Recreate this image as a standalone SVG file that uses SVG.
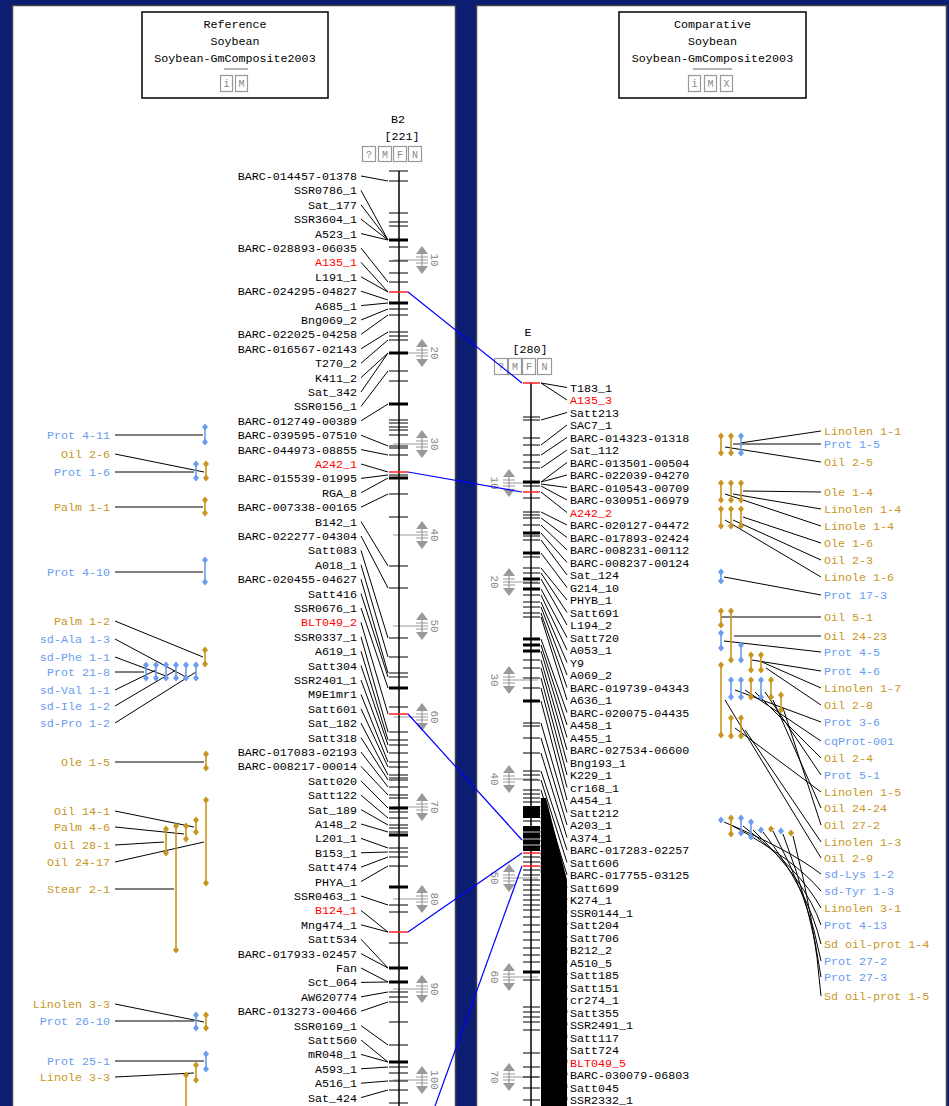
<svg xmlns="http://www.w3.org/2000/svg" xmlns:xlink="http://www.w3.org/1999/xlink" width="949" height="1106" viewBox="0 0 949 1106">
<defs>
<style>
.t{font-family:"Liberation Mono","DejaVu Sans Mono",monospace;font-size:11.7px;fill:#000}
.e{text-anchor:end}
.m{text-anchor:middle}
.red{fill:#ff0000}
.gold{fill:#c8961e}
.blue{fill:#6a9cf0}
.bb{stroke:#000;stroke-width:1.5;fill:none}
.tk{stroke:#000;stroke-width:1.2;fill:none}
.tk3{stroke:#000;stroke-width:3;fill:none}
.tkr{stroke:#ff2020;stroke-width:1.6;fill:none}
.ld{stroke:#000;stroke-width:1;fill:none}
.cn{stroke:#0000ff;stroke-width:1.2;fill:none}
.qg{stroke:#c8961e;stroke-width:1.6;marker-start:url(#dg);marker-end:url(#dg)}
.qb{stroke:#6a9cf0;stroke-width:1.6;marker-start:url(#db);marker-end:url(#db)}
.sc{stroke:#999;stroke-width:1.2;fill:none}
.scf{fill:#999;stroke:none}
.sn{font-family:"Liberation Mono","DejaVu Sans Mono",monospace;font-size:11px;fill:#8a8a8a;text-anchor:middle}
.btn{fill:#fff;stroke:#999;stroke-width:1.2}
.bt{font-family:"Liberation Mono","DejaVu Sans Mono",monospace;font-size:10px;fill:#888;text-anchor:middle}
.box{fill:#fff;stroke:#000;stroke-width:1.5}
.pnl{fill:#fff;stroke:#444;stroke-width:1.5}
</style>
<marker id="dg" viewBox="0 0 8 8" refX="4" refY="4" markerWidth="8" markerHeight="8" markerUnits="userSpaceOnUse"><path d="M4,0.5L7,4L4,7.5L1,4Z" fill="#c8961e"/></marker>
<marker id="db" viewBox="0 0 8 8" refX="4" refY="4" markerWidth="8" markerHeight="8" markerUnits="userSpaceOnUse"><path d="M4,0.5L7,4L4,7.5L1,4Z" fill="#6a9cf0"/></marker>
<path id="dmd" d="M0,-3.5L3,0L0,3.5L-3,0Z"/>
<g id="scm"><path class="scf" d="M0,-14L6,-6L-6,-6ZM0,14L6,6L-6,6Z"/><path class="sc" d="M0,-6V6M-6,-3H6M-6,3H6"/></g>
</defs>
<rect x="0" y="0" width="949" height="1106" fill="#0b1e72"/>

<g id="panel-reference">
<rect class="pnl" x="12.5" y="5.5" width="443" height="1110"/>
<rect class="box" x="142" y="12" width="186" height="86"/>
<text class="t m" x="235" y="28">Reference</text>
<text class="t m" x="235" y="45">Soybean</text>
<text class="t m" x="235" y="62">Soybean-GmComposite2003</text>
<path d="M224,69H248" stroke="#666" stroke-width="1"/>
<rect class="btn" x="220.5" y="75.5" width="12" height="16"/><text class="bt" x="226.5" y="87">i</text>
<rect class="btn" x="235.5" y="75.5" width="12" height="16"/><text class="bt" x="241.5" y="87">M</text>
</g>

<g id="panel-comparative">
<rect class="pnl" x="476.5" y="5.5" width="470" height="1110"/>
<rect class="box" x="619" y="12" width="187" height="86"/>
<text class="t m" x="712.5" y="28">Comparative</text>
<text class="t m" x="712.5" y="45">Soybean</text>
<text class="t m" x="712.5" y="62">Soybean-GmComposite2003</text>
<path d="M693,69H732" stroke="#666" stroke-width="1"/>
<rect class="btn" x="688.5" y="75.5" width="12" height="16"/><text class="bt" x="694.5" y="87">i</text>
<rect class="btn" x="704.5" y="75.5" width="12" height="16"/><text class="bt" x="710.5" y="87">M</text>
<rect class="btn" x="720.5" y="75.5" width="12" height="16"/><text class="bt" x="726.5" y="87">X</text>
</g>

<g id="chrom-B2">
<text class="t m" x="398" y="123">B2</text>
<text class="t m" x="402" y="140">[221]</text>
<rect class="btn" x="362.5" y="146.5" width="13" height="15"/><text class="bt" x="369" y="158">?</text>
<rect class="btn" x="378.5" y="146.5" width="13" height="15"/><text class="bt" x="385" y="158">M</text>
<rect class="btn" x="393.5" y="146.5" width="13" height="15"/><text class="bt" x="400" y="158">F</text>
<rect class="btn" x="408.5" y="146.5" width="13" height="15"/><text class="bt" x="415" y="158">N</text>
<g id="b2-scale">
<path class="sc" d="M393,260H428M393,353H428M393,444H428M393,535H428M393,626H428M393,717H428M393,807H428M393,899H428M393,989H428M393,1080H428"/>
<use xlink:href="#scm" x="422" y="260"/><use xlink:href="#scm" x="422" y="353"/><use xlink:href="#scm" x="422" y="444"/><use xlink:href="#scm" x="422" y="535"/><use xlink:href="#scm" x="422" y="626"/><use xlink:href="#scm" x="422" y="717"/><use xlink:href="#scm" x="422" y="807"/><use xlink:href="#scm" x="422" y="899"/><use xlink:href="#scm" x="422" y="989"/><use xlink:href="#scm" x="422" y="1080"/>
<text class="sn" transform="translate(431,260) rotate(90)">10</text>
<text class="sn" transform="translate(431,353) rotate(90)">20</text>
<text class="sn" transform="translate(431,444) rotate(90)">30</text>
<text class="sn" transform="translate(431,535) rotate(90)">40</text>
<text class="sn" transform="translate(431,626) rotate(90)">50</text>
<text class="sn" transform="translate(431,717) rotate(90)">60</text>
<text class="sn" transform="translate(431,807) rotate(90)">70</text>
<text class="sn" transform="translate(431,899) rotate(90)">80</text>
<text class="sn" transform="translate(431,989) rotate(90)">90</text>
<text class="sn" transform="translate(431,1080) rotate(90)">100</text>
</g>
<path class="bb" d="M399,171V1106"/>
<path class="tk" d="M389,171H408M389,181H408M389,213H408M389,222H408M389,226H408M389,247H408M389,261H408M389,273H408M389,282H408M389,309H408M389,315H408M389,332H408M389,336H408M389,340H408M389,371H408M389,381H408M389,420H408M389,423H408M389,427H408M389,430H408M389,435H408M389,446H408M389,448H408M389,455H408M389,475H408M389,494H408M389,517H408M389,566H408M389,588H408M389,638H408M389,657H408M389,673H408M389,677H408M389,707H408M389,732H408M389,740H408M389,745H408M389,753H408M389,762H408M389,767H408M389,775H408M389,778H408M389,780H408M389,787H408M389,795H408M389,798H408M389,812H408M389,818H408M389,825H408M389,828H408M389,832H408M389,848H408M389,852H408M389,857H408M389,866H408M389,905H408M389,912H408M389,943H408M389,992H408M389,997H408M389,1002H408M389,1022H408M389,1045H408M389,1067H408M389,1073H408M389,1081H408M389,1090H408M389,1103H408"/>
<path class="tk3" d="M389,240H408M389,303H408M389,353H408M389,404H408M389,478H408M389,688H408M389,808H408M389,835H408M389,887H408M389,968H408M389,982H408M389,1062H408"/>
<path class="tkr" d="M389,292H408M389,472H408M389,714H408M389,932H408"/>
<path class="ld" d="M361,176L388,181M361,190.4L388,240M361,204.8L388,240M361,219.2L388,240M361,233.6L388,240M361,248L388,282M361,262.4L388,292M361,276.8L388,292M361,291.2L388,300M361,305.6L388,303M361,320L388,309M361,334.4L388,315M361,348.8L388,332M361,363.2L388,340M361,377.6L388,353M361,392L388,353M361,406.4L388,371M361,420.8L388,404M361,435.2L388,446M361,449.6L388,455M361,464L388,472M361,478.4L388,475M361,492.8L388,478M361,507.2L388,494M361,521.6L388,566M361,536L388,588M361,550.4L388,638M361,564.8L388,657M361,579.2L388,673M361,593.6L388,677M361,608L388,688M361,622.4L388,714M361,636.8L388,732M361,651.2L388,740M361,665.6L388,745M361,680L388,753M361,694.4L388,762M361,708.8L388,767M361,723.2L388,775M361,737.6L388,780M361,752L388,787M361,766.4L388,795M361,780.8L388,808M361,795.2L388,818M361,809.6L388,825M361,824L388,832M361,838.4L388,848M361,852.8L388,852M361,867.2L388,857M361,881.6L388,866M361,896L388,905M361,910.4L388,932M361,924.8L388,932M361,939.2L388,968M361,953.6L388,968M361,968L388,982M361,982.4L388,982M361,996.8L388,992M361,1011.2L388,1002M361,1025.6L388,1045M361,1040L388,1062M361,1054.4L388,1062M361,1068.8L388,1067M361,1083.2L388,1081M361,1097.6L388,1090"/>
<g class="t e">
<text x="357" y="180">BARC-014457-01378</text>
<text x="357" y="194.4">SSR0786_1</text>
<text x="357" y="208.8">Sat_177</text>
<text x="357" y="223.2">SSR3604_1</text>
<text x="357" y="237.6">A523_1</text>
<text x="357" y="252">BARC-028893-06035</text>
<text x="357" y="266.4" class="red">A135_1</text>
<text x="357" y="280.8">L191_1</text>
<text x="357" y="295.2">BARC-024295-04827</text>
<text x="357" y="309.6">A685_1</text>
<text x="357" y="324">Bng069_2</text>
<text x="357" y="338.4">BARC-022025-04258</text>
<text x="357" y="352.8">BARC-016567-02143</text>
<text x="357" y="367.2">T270_2</text>
<text x="357" y="381.6">K411_2</text>
<text x="357" y="396">Sat_342</text>
<text x="357" y="410.4">SSR0156_1</text>
<text x="357" y="424.8">BARC-012749-00389</text>
<text x="357" y="439.2">BARC-039595-07510</text>
<text x="357" y="453.6">BARC-044973-08855</text>
<text x="357" y="468" class="red">A242_1</text>
<text x="357" y="482.4">BARC-015539-01995</text>
<text x="357" y="496.8">RGA_8</text>
<text x="357" y="511.2">BARC-007338-00165</text>
<text x="357" y="525.6">B142_1</text>
<text x="357" y="540">BARC-022277-04304</text>
<text x="357" y="554.4">Satt083</text>
<text x="357" y="568.8">A018_1</text>
<text x="357" y="583.2">BARC-020455-04627</text>
<text x="357" y="597.6">Satt416</text>
<text x="357" y="612">SSR0676_1</text>
<text x="357" y="626.4" class="red">BLT049_2</text>
<text x="357" y="640.8">SSR0337_1</text>
<text x="357" y="655.2">A619_1</text>
<text x="357" y="669.6">Satt304</text>
<text x="357" y="684">SSR2401_1</text>
<text x="357" y="698.4">M9E1mr1</text>
<text x="357" y="712.8">Satt601</text>
<text x="357" y="727.2">Sat_182</text>
<text x="357" y="741.6">Satt318</text>
<text x="357" y="756">BARC-017083-02193</text>
<text x="357" y="770.4">BARC-008217-00014</text>
<text x="357" y="784.8">Satt020</text>
<text x="357" y="799.2">Satt122</text>
<text x="357" y="813.6">Sat_189</text>
<text x="357" y="828">A148_2</text>
<text x="357" y="842.4">L201_1</text>
<text x="357" y="856.8">B153_1</text>
<text x="357" y="871.2">Satt474</text>
<text x="357" y="885.6">PHYA_1</text>
<text x="357" y="900">SSR0463_1</text>
<text x="357" y="914.4" class="red">B124_1</text>
<text x="357" y="928.8">Mng474_1</text>
<text x="357" y="943.2">Satt534</text>
<text x="357" y="957.6">BARC-017933-02457</text>
<text x="357" y="972">Fan</text>
<text x="357" y="986.4">Sct_064</text>
<text x="357" y="1000.8">AW620774</text>
<text x="357" y="1015.2">BARC-013273-00466</text>
<text x="357" y="1029.6">SSR0169_1</text>
<text x="357" y="1044">Satt560</text>
<text x="357" y="1058.4">mR048_1</text>
<text x="357" y="1072.8">A593_1</text>
<text x="357" y="1087.2">A516_1</text>
<text x="357" y="1101.6">Sat_424</text>
</g>
</g>

<g id="chrom-E">
<text class="t m" x="528" y="336">E</text>
<text class="t m" x="530" y="353">[280]</text>
<rect class="btn" x="494.5" y="358.5" width="13" height="16"/><text class="bt" x="501" y="370">?</text>
<rect class="btn" x="508.5" y="358.5" width="13" height="16"/><text class="bt" x="515" y="370">M</text>
<rect class="btn" x="522.5" y="358.5" width="13" height="16"/><text class="bt" x="529" y="370">F</text>
<rect class="btn" x="537.5" y="358.5" width="14" height="16"/><text class="bt" x="544.5" y="370">N</text>
<g id="e-scale">
<path class="sc" d="M503,483H538M503,582H538M503,680H538M503,779H538M503,878H538M503,977H538M503,1077H538"/>
<use xlink:href="#scm" x="509" y="483"/><use xlink:href="#scm" x="509" y="582"/><use xlink:href="#scm" x="509" y="680"/><use xlink:href="#scm" x="509" y="779"/><use xlink:href="#scm" x="509" y="878"/><use xlink:href="#scm" x="509" y="977"/><use xlink:href="#scm" x="509" y="1077"/>
<text class="sn" transform="translate(491,483) rotate(90)">10</text>
<text class="sn" transform="translate(491,582) rotate(90)">20</text>
<text class="sn" transform="translate(491,680) rotate(90)">30</text>
<text class="sn" transform="translate(491,779) rotate(90)">40</text>
<text class="sn" transform="translate(491,878) rotate(90)">50</text>
<text class="sn" transform="translate(491,977) rotate(90)">60</text>
<text class="sn" transform="translate(491,1077) rotate(90)">70</text>
</g>
<path class="bb" d="M531,383V1106"/>
<path class="tk" d="M523,417H540M523,420H540M523,438H540M523,445H540M523,455H540M523,462H540M523,468H540M523,486H540M523,498H540M523,512H540M523,515H540M523,518H540M523,525H540M523,536H540M523,540H540M523,557H540M523,568H540M523,573H540M523,583H540M523,595H540M523,602H540M523,607H540M523,613H540M523,617H540M523,660H540M523,668H540M523,678H540M523,688H540M523,723H540M523,726H540M523,738H540M523,753H540M523,771H540M523,775H540M523,780H540M523,790H540M523,794H540M523,798H540M523,802H540M523,821H540M523,857H540M523,862H540M523,870H540M523,875H540M523,880H540M523,885H540M523,890H540M523,895H540M523,900H540M523,905H540M523,910H540M523,917H540M523,925H540M523,932H540M523,940H540M523,948H540M523,955H540M523,962H540M523,980H540M523,1007H540M523,1012H540M523,1017H540M523,1022H540M523,1030H540M523,1053H540M523,1067H540M523,1077H540M523,1088H540M523,1100H540"/>
<path class="tk3" d="M523,482H540M523,533H540M523,553H540M523,579H540M523,589H540M523,639H540M523,645H540M523,651H540M523,701H540M523,972H540"/>
<rect x="523" y="806" width="17" height="12" fill="#000"/>
<rect x="523" y="826" width="17" height="25" fill="#000"/>
<path d="M523,832H540M523,839H540M523,845H540" stroke="#fff" stroke-width="0.8"/>
<path class="tkr" d="M523,383H540M523,492H540M523,853H540M523,866H540"/>
<polygon points="541,798 546,798 567,880 567,1106 541,1106" fill="#000"/>
<path class="ld" d="M541,383L567,387.5M541,383L567,400M541,420L567,412.5M541,445L567,425M541,455L567,437.5M541,468L567,450M541,482L567,462.5M541,482L567,475M541,484L567,487.5M541,486L567,500M541,492L567,512.5M541,512L567,525M541,518L567,537.5M541,525L567,550M541,533L567,562.5M541,540L567,575M541,553L567,587.5M541,568L567,600M541,573L567,612.5M541,579L567,625M541,589L567,637.5M541,595L567,650M541,602L567,662.5M541,607L567,675M541,613L567,687.5M541,617L567,700M541,639L567,712.5M541,645L567,725M541,651L567,737.5M541,660L567,750M541,668L567,762.5M541,678L567,775M541,688L567,787.5M541,701L567,800M541,723L567,812.5M541,738L567,825M541,753L567,837.5M541,771L567,850M541,780L567,862.5M541,790L567,875M541,798L567,887.5M541,802L567,900M541,806L567,912.5M541,810L567,925M541,813L567,937.5M541,817L567,950M541,821L567,962.5M541,827L567,975M541,831L567,987.5M541,835L567,1000M541,840L567,1012.5M541,845L567,1025M541,850L567,1037.5M541,853L567,1050M541,857L567,1062.5M541,862L567,1075M541,866L567,1087.5M541,870L567,1100"/>
<g class="t">
<text x="570" y="391.5">T183_1</text>
<text x="570" y="404" class="red">A135_3</text>
<text x="570" y="416.5">Satt213</text>
<text x="570" y="429">SAC7_1</text>
<text x="570" y="441.5">BARC-014323-01318</text>
<text x="570" y="454">Sat_112</text>
<text x="570" y="466.5">BARC-013501-00504</text>
<text x="570" y="479">BARC-022039-04270</text>
<text x="570" y="491.5">BARC-010543-00709</text>
<text x="570" y="504">BARC-030951-06979</text>
<text x="570" y="516.5" class="red">A242_2</text>
<text x="570" y="529">BARC-020127-04472</text>
<text x="570" y="541.5">BARC-017893-02424</text>
<text x="570" y="554">BARC-008231-00112</text>
<text x="570" y="566.5">BARC-008237-00124</text>
<text x="570" y="579">Sat_124</text>
<text x="570" y="591.5">G214_10</text>
<text x="570" y="604">PHYB_1</text>
<text x="570" y="616.5">Satt691</text>
<text x="570" y="629">L194_2</text>
<text x="570" y="641.5">Satt720</text>
<text x="570" y="654">A053_1</text>
<text x="570" y="666.5">Y9</text>
<text x="570" y="679">A069_2</text>
<text x="570" y="691.5">BARC-019739-04343</text>
<text x="570" y="704">A636_1</text>
<text x="570" y="716.5">BARC-020075-04435</text>
<text x="570" y="729">A458_1</text>
<text x="570" y="741.5">A455_1</text>
<text x="570" y="754">BARC-027534-06600</text>
<text x="570" y="766.5">Bng193_1</text>
<text x="570" y="779">K229_1</text>
<text x="570" y="791.5">cr168_1</text>
<text x="570" y="804">A454_1</text>
<text x="570" y="816.5">Satt212</text>
<text x="570" y="829">A203_1</text>
<text x="570" y="841.5">A374_1</text>
<text x="570" y="854">BARC-017283-02257</text>
<text x="570" y="866.5">Satt606</text>
<text x="570" y="879">BARC-017755-03125</text>
<text x="570" y="891.5">Satt699</text>
<text x="570" y="904">K274_1</text>
<text x="570" y="916.5">SSR0144_1</text>
<text x="570" y="929">Satt204</text>
<text x="570" y="941.5">Satt706</text>
<text x="570" y="954">B212_2</text>
<text x="570" y="966.5">A510_5</text>
<text x="570" y="979">Satt185</text>
<text x="570" y="991.5">Satt151</text>
<text x="570" y="1004">cr274_1</text>
<text x="570" y="1016.5">Satt355</text>
<text x="570" y="1029">SSR2491_1</text>
<text x="570" y="1041.5">Satt117</text>
<text x="570" y="1054">Satt724</text>
<text x="570" y="1066.5" class="red">BLT049_5</text>
<text x="570" y="1079">BARC-030079-06803</text>
<text x="570" y="1091.5">Satt045</text>
<text x="570" y="1104">SSR2332_1</text>
</g>
</g>

<g id="qtl-left">
<path class="ld" d="M115,435H203M115,454L204,472M115,472H194M115,507H203M115,572H203M115,621L203,657M115,639L186,677M115,657L166,676M115,672H144M115,690L156,670M115,706L176,670M115,723L196,672M115,762H204M115,811L194,827M115,827L184,834M115,845L164,842M115,862L204,842M115,889H174M115,1004L204,1022M115,1021H194M115,1061H204M115,1077L194,1073"/>
<line class="qb" x1="205" y1="427" x2="205" y2="442"/>
<line class="qb" x1="196" y1="464" x2="196" y2="478"/>
<line class="qg" x1="206" y1="464" x2="206" y2="478"/>
<line class="qg" x1="205" y1="500" x2="205" y2="513"/>
<line class="qb" x1="205" y1="560" x2="205" y2="582"/>
<line class="qg" x1="205" y1="650" x2="205" y2="664"/>
<line class="qb" x1="146" y1="665" x2="146" y2="678"/>
<line class="qb" x1="156" y1="665" x2="156" y2="678"/>
<line class="qb" x1="166" y1="665" x2="166" y2="678"/>
<line class="qb" x1="176" y1="665" x2="176" y2="678"/>
<line class="qb" x1="186" y1="665" x2="186" y2="678"/>
<line class="qb" x1="196" y1="665" x2="196" y2="678"/>
<line class="qg" x1="206" y1="754" x2="206" y2="768"/>
<line class="qg" x1="206" y1="800" x2="206" y2="883"/>
<line class="qg" x1="196" y1="820" x2="196" y2="832"/>
<line class="qg" x1="186" y1="826" x2="186" y2="839"/>
<line class="qg" x1="176" y1="826" x2="176" y2="950"/>
<line class="qg" x1="166" y1="829" x2="166" y2="853"/>
<line class="qb" x1="196" y1="1015" x2="196" y2="1028"/>
<line class="qg" x1="206" y1="1015" x2="206" y2="1028"/>
<line class="qb" x1="206" y1="1054" x2="206" y2="1069"/>
<line class="qg" x1="196" y1="1065" x2="196" y2="1080"/>
<line x1="186" y1="1075" x2="186" y2="1106" stroke="#c8961e" stroke-width="1.6" marker-start="url(#dg)"/>
<g class="t e">
<text x="110" y="439" class="blue">Prot 4-11</text>
<text x="110" y="458" class="gold">Oil 2-6</text>
<text x="110" y="476" class="blue">Prot 1-6</text>
<text x="110" y="511" class="gold">Palm 1-1</text>
<text x="110" y="576" class="blue">Prot 4-10</text>
<text x="110" y="625" class="gold">Palm 1-2</text>
<text x="110" y="643" class="blue">sd-Ala 1-3</text>
<text x="110" y="661" class="blue">sd-Phe 1-1</text>
<text x="110" y="676" class="blue">Prot 21-8</text>
<text x="110" y="694" class="blue">sd-Val 1-1</text>
<text x="110" y="710" class="blue">sd-Ile 1-2</text>
<text x="110" y="727" class="blue">sd-Pro 1-2</text>
<text x="110" y="766" class="gold">Ole 1-5</text>
<text x="110" y="815" class="gold">Oil 14-1</text>
<text x="110" y="831" class="gold">Palm 4-6</text>
<text x="110" y="849" class="gold">Oil 28-1</text>
<text x="110" y="866" class="gold">Oil 24-17</text>
<text x="110" y="893" class="gold">Stear 2-1</text>
<text x="110" y="1008" class="gold">Linolen 3-3</text>
<text x="110" y="1025" class="blue">Prot 26-10</text>
<text x="110" y="1065" class="blue">Prot 25-1</text>
<text x="110" y="1081" class="gold">Linole 3-3</text>
</g>
</g>

<g id="qtl-right">
<path class="ld" d="M740,443L821,431M733,444H821M725,447L821,462M743,491L821,492M733,494L821,509M725,494L821,526M743,517L821,543M733,520L821,560M725,520L821,577M724,577L821,595M721,617H821M734,636H821M724,641L821,652M752,660L821,671M762,662L821,688M766,668L821,705M735,690L821,722M745,690L821,741M755,692L821,758M765,692L821,775M735,728L821,792M773,700L821,808M783,708L821,825M745,730L821,842M725,700L821,858M724,822Q790,850 821,874M733,826Q795,860 821,891M743,826Q800,870 821,908M753,830Q805,880 821,925M763,832Q808,890 821,944M773,831Q810,900 821,961M783,834Q812,910 821,977M793,836Q815,920 821,996"/>
<line class="qg" x1="721" y1="436" x2="721" y2="453"/>
<line class="qg" x1="731" y1="436" x2="731" y2="453"/>
<line class="qb" x1="741" y1="436" x2="741" y2="453"/>
<line class="qg" x1="721" y1="483" x2="721" y2="500"/>
<line class="qg" x1="731" y1="483" x2="731" y2="500"/>
<line class="qg" x1="741" y1="483" x2="741" y2="500"/>
<line class="qg" x1="721" y1="509" x2="721" y2="526"/>
<line class="qg" x1="731" y1="509" x2="731" y2="526"/>
<line class="qg" x1="741" y1="509" x2="741" y2="526"/>
<line class="qb" x1="721" y1="572" x2="721" y2="581"/>
<line class="qg" x1="721" y1="611" x2="721" y2="625"/>
<line class="qg" x1="731" y1="611" x2="731" y2="660"/>
<line class="qb" x1="721" y1="633" x2="721" y2="648"/>
<line class="qb" x1="741" y1="645" x2="741" y2="660"/>
<line class="qg" x1="751" y1="655" x2="751" y2="670"/>
<line class="qg" x1="761" y1="655" x2="761" y2="670"/>
<line class="qg" x1="721" y1="665" x2="721" y2="735"/>
<line class="qb" x1="731" y1="680" x2="731" y2="697"/>
<line class="qb" x1="741" y1="680" x2="741" y2="697"/>
<line class="qg" x1="751" y1="680" x2="751" y2="697"/>
<line class="qb" x1="761" y1="680" x2="761" y2="697"/>
<line class="qg" x1="771" y1="680" x2="771" y2="697"/>
<line class="qg" x1="781" y1="695" x2="781" y2="710"/>
<line class="qg" x1="731" y1="718" x2="731" y2="736"/>
<line class="qg" x1="741" y1="718" x2="741" y2="736"/>
<use xlink:href="#dmd" x="721" y="820" fill="#6a9cf0"/>
<line class="qg" x1="731" y1="818" x2="731" y2="834"/>
<line class="qb" x1="741" y1="818" x2="741" y2="833"/>
<line class="qb" x1="751" y1="822" x2="751" y2="837"/>
<use xlink:href="#dmd" x="761" y="830" fill="#6a9cf0"/>
<use xlink:href="#dmd" x="771" y="829" fill="#c8961e"/>
<use xlink:href="#dmd" x="781" y="831" fill="#6a9cf0"/>
<use xlink:href="#dmd" x="791" y="833" fill="#c8961e"/>
<g class="t">
<text x="824" y="435" class="gold">Linolen 1-1</text>
<text x="824" y="448" class="blue">Prot 1-5</text>
<text x="824" y="466" class="gold">Oil 2-5</text>
<text x="824" y="496" class="gold">Ole 1-4</text>
<text x="824" y="513" class="gold">Linolen 1-4</text>
<text x="824" y="530" class="gold">Linole 1-4</text>
<text x="824" y="547" class="gold">Ole 1-6</text>
<text x="824" y="564" class="gold">Oil 2-3</text>
<text x="824" y="581" class="gold">Linole 1-6</text>
<text x="824" y="599" class="blue">Prot 17-3</text>
<text x="824" y="621" class="gold">Oil 5-1</text>
<text x="824" y="640" class="gold">Oil 24-23</text>
<text x="824" y="656" class="blue">Prot 4-5</text>
<text x="824" y="675" class="blue">Prot 4-6</text>
<text x="824" y="692" class="gold">Linolen 1-7</text>
<text x="824" y="709" class="gold">Oil 2-8</text>
<text x="824" y="726" class="blue">Prot 3-6</text>
<text x="824" y="745" class="blue">cqProt-001</text>
<text x="824" y="762" class="gold">Oil 2-4</text>
<text x="824" y="779" class="blue">Prot 5-1</text>
<text x="824" y="796" class="gold">Linolen 1-5</text>
<text x="824" y="812" class="gold">Oil 24-24</text>
<text x="824" y="829" class="gold">Oil 27-2</text>
<text x="824" y="846" class="gold">Linolen 1-3</text>
<text x="824" y="862" class="gold">Oil 2-9</text>
<text x="824" y="878" class="blue">sd-Lys 1-2</text>
<text x="824" y="895" class="blue">sd-Tyr 1-3</text>
<text x="824" y="912" class="gold">Linolen 3-1</text>
<text x="824" y="929" class="blue">Prot 4-13</text>
<text x="824" y="948" class="gold">Sd oil-prot 1-4</text>
<text x="824" y="965" class="blue">Prot 27-2</text>
<text x="824" y="981" class="blue">Prot 27-3</text>
<text x="824" y="1000" class="gold">Sd oil-prot 1-5</text>
</g>
</g>

<g id="connectors">
<path class="cn" d="M408,292L522,383"/>
<path class="cn" d="M408,472L522,492"/>
<path class="cn" d="M408,714L522,840"/>
<path class="cn" d="M408,932L522,853"/>
<path class="cn" d="M435,1106L522,866"/>
</g>
</svg>
